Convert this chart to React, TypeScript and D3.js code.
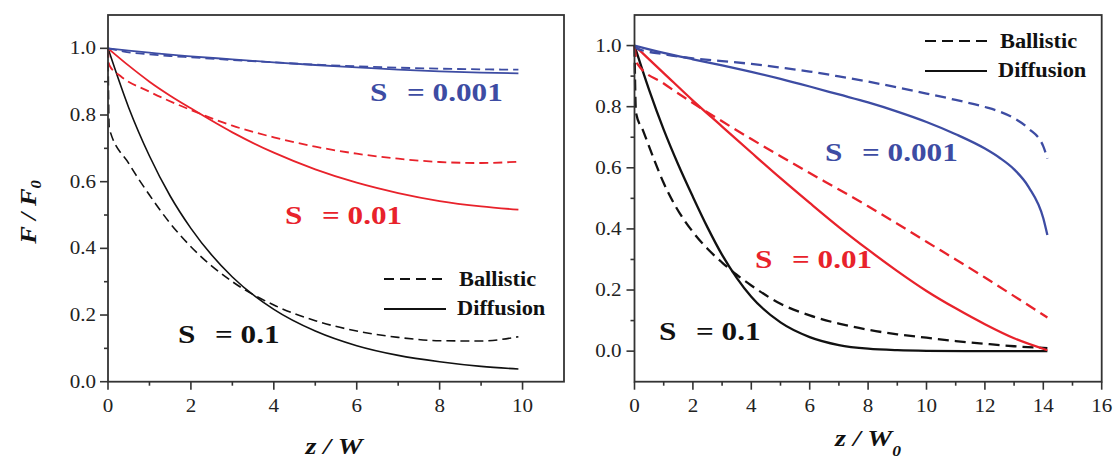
import React from "react";
import * as d3 from "d3";

// ---------- data: left panel (x = z/W) ----------
const lBlueSolidX = [0, 0.5, 1, 1.5, 2, 3, 4, 5, 6, 7, 8, 9, 9.9];
const lBlueSolidY = [1.0, 0.993, 0.987, 0.981, 0.976, 0.967, 0.958, 0.95, 0.943, 0.936, 0.931, 0.927, 0.925];
const lBlueDashX = [0, 0.5, 1, 1.5, 2, 3, 4, 5, 6, 7, 8, 9, 9.9];
const lBlueDashY = [1.0, 0.988, 0.982, 0.977, 0.973, 0.965, 0.958, 0.951, 0.946, 0.942, 0.939, 0.937, 0.936];
const lRedSolidX = [0, 0.5, 1, 1.5, 2, 3, 4, 5, 6, 7, 8, 9, 9.9];
const lRedSolidY = [1.0, 0.948, 0.9, 0.858, 0.82, 0.748, 0.687, 0.637, 0.597, 0.566, 0.542, 0.526, 0.516];
const lRedDashX = [0, 0.03, 0.3, 1, 2, 3, 4, 5, 6, 7, 8, 9, 9.9];
const lRedDashY = [1.0, 0.95, 0.917, 0.87, 0.815, 0.768, 0.733, 0.705, 0.684, 0.669, 0.659, 0.656, 0.66];
const lBlackSolidX = [0, 0.5, 1, 1.5, 2, 3, 4, 5, 6, 7, 8, 9, 9.9];
const lBlackSolidY = [1.0, 0.822, 0.677, 0.557, 0.46, 0.314, 0.217, 0.152, 0.108, 0.079, 0.06, 0.046, 0.038];
const lBlackDashX = [0, 0.03, 0.5, 1, 1.5, 2, 3, 4, 5, 6, 7, 8, 9, 9.9];
const lBlackDashY = [1.0, 0.76, 0.655, 0.56, 0.475, 0.405, 0.3, 0.23, 0.183, 0.152, 0.133, 0.123, 0.122, 0.135];

// ---------- data: right panel (x = z/W0) ----------
const rBlueSolidX = [0, 1, 2, 3, 4, 5, 6, 7, 8, 9, 10, 11, 12, 12.5, 13, 13.5, 14, 14.14];
const rBlueSolidY = [1.0, 0.976, 0.955, 0.935, 0.914, 0.891, 0.866, 0.84, 0.814, 0.784, 0.75, 0.71, 0.663, 0.633, 0.595, 0.537, 0.435, 0.38];
const rBlueDashX = [0, 0.1, 1, 2, 3, 4, 5, 6, 7, 8, 9, 10, 11, 12, 12.5, 13, 13.5, 14, 14.14];
const rBlueDashY = [1.0, 0.99, 0.972, 0.958, 0.949, 0.94, 0.928, 0.915, 0.899, 0.882, 0.863, 0.843, 0.822, 0.799, 0.784, 0.762, 0.728, 0.67, 0.63];
const rRedSolidX = [0, 0.5, 1, 2, 3, 4, 5, 6, 7, 8, 9, 10, 11, 12, 13, 14.14];
const rRedSolidY = [1.0, 0.955, 0.91, 0.82, 0.735, 0.65, 0.566, 0.485, 0.406, 0.332, 0.262, 0.197, 0.14, 0.088, 0.042, 0.003];
const rRedDashX = [0, 0.1, 1, 2, 3, 4, 5, 6, 7, 8, 9, 10, 11, 12, 13, 14.14];
const rRedDashY = [1.0, 0.94, 0.876, 0.812, 0.752, 0.694, 0.638, 0.583, 0.529, 0.474, 0.417, 0.358, 0.3, 0.241, 0.18, 0.11];
const rBlackSolidX = [0, 0.5, 1, 1.5, 2, 2.5, 3, 3.5, 4, 5, 6, 7, 8, 9, 10, 12, 14.14];
const rBlackSolidY = [1.0, 0.855, 0.725, 0.61, 0.505, 0.405, 0.315, 0.24, 0.178, 0.094, 0.046, 0.02, 0.008, 0.003, 0.001, 0, 0];
const rBlackDashX = [0, 0.05, 0.3, 0.65, 1, 1.4, 2, 2.5, 3, 3.5, 4, 5, 6, 7, 8, 9, 10, 11, 12, 13, 14.14];
const rBlackDashY = [1.0, 0.78, 0.72, 0.632, 0.55, 0.475, 0.39, 0.335, 0.29, 0.25, 0.215, 0.155, 0.117, 0.09, 0.07, 0.055, 0.044, 0.033, 0.024, 0.016, 0.01];

// ---------- ticks & labels ----------
const lXMajor = [0, 2, 4, 6, 8, 10];
const lXMinor = [1, 3, 5, 7, 9];
const yMajor = [0, 0.2, 0.4, 0.6, 0.8, 1.0];
const yMinor = [0.1, 0.3, 0.5, 0.7, 0.9];
const rXMajor = [0, 2, 4, 6, 8, 10, 12, 14, 16];
const rXMinor = [1, 3, 5, 7, 9, 11, 13, 15];
const legendLabels = ["Ballistic", "Diffusion"];
const sValues = ["0.001", "0.01", "0.1"];

const BLUE = "#3d4ca3";
const RED = "#e8222b";
const BLACK = "#111111";
const AXIS = "#333333";
const SERIF = "'Liberation Serif', 'Times New Roman', serif";

function T(props: any) {
  const { x, y, size, weight = "normal", style = "normal", fill = "#222", anchor = "start", sx = 1.17, rotate = 0, children } = props;
  return (
    <text
      transform={`translate(${x},${y}) rotate(${rotate}) scale(${sx},1)`}
      fontFamily={SERIF}
      fontSize={size}
      fontWeight={weight}
      fontStyle={style}
      fill={fill}
      textAnchor={anchor}
    >
      {children}
    </text>
  );
}

function series(xs: number[], ys: number[]) {
  return xs.map((x, i) => [x, ys[i]] as [number, number]);
}

function Panel(props: any) {
  const { x, y, xMajor, xMinor, curves, yLabelGap } = props;
  const [x0, x1] = x.range();
  const [y0, y1] = y.range();
  const line = d3.line<[number, number]>().x((d) => x(d[0])).y((d) => y(d[1])).curve(d3.curveMonotoneX);
  return (
    <g>
      {curves.map((c: any, i: number) => (
        <path
          key={i}
          d={line(series(c.xs, c.ys)) || ""}
          fill="none"
          stroke={c.color}
          strokeWidth={c.width}
          strokeDasharray={c.dash || undefined}
        />
      ))}
      <rect x={x0} y={y1} width={x1 - x0} height={y0 - y1} fill="none" stroke={AXIS} strokeWidth={1.8} />
      {xMajor.map((t: number) => (
        <g key={"xm" + t}>
          <line x1={x(t)} x2={x(t)} y1={y0} y2={y0 + 8} stroke={AXIS} strokeWidth={1.6} />
          <T x={x(t)} y={y0 + 30} size={18} anchor="middle">{String(t)}</T>
        </g>
      ))}
      {xMinor.map((t: number) => (
        <line key={"xn" + t} x1={x(t)} x2={x(t)} y1={y0} y2={y0 + 4} stroke={AXIS} strokeWidth={1.6} />
      ))}
      {yMajor.map((t: number) => (
        <g key={"ym" + t}>
          <line x1={x0 - 8} x2={x0} y1={y(t)} y2={y(t)} stroke={AXIS} strokeWidth={1.6} />
          <T x={x0 - yLabelGap} y={y(t) + 6} size={18} anchor="end">{t.toFixed(1)}</T>
        </g>
      ))}
      {yMinor.map((t: number) => (
        <line key={"yn" + t} x1={x0 - 4} x2={x0} y1={y(t)} y2={y(t)} stroke={AXIS} strokeWidth={1.6} />
      ))}
    </g>
  );
}

function SLabel(props: any) {
  const { x, y, color, value } = props;
  return (
    <g>
      <T x={x} y={y} size={26} weight="bold" fill={color} sx={1.2}>S</T>
      <T x={x + 37} y={y} size={26} weight="bold" fill={color} sx={1.2}>{"= " + value}</T>
    </g>
  );
}

function Legend(props: any) {
  const { x, y, dash } = props;
  return (
    <g>
      <line x1={x} x2={x + 62} y1={y} y2={y} stroke={BLACK} strokeWidth={2} strokeDasharray={dash} />
      <line x1={x} x2={x + 62} y1={y + 30} y2={y + 30} stroke={BLACK} strokeWidth={2} />
      <T x={x + 75} y={y + 7} size={20} weight="bold" fill={BLACK} sx={1.12}>{legendLabels[0]}</T>
      <T x={x + 73} y={y + 36} size={20} weight="bold" fill={BLACK} sx={1.12}>{legendLabels[1]}</T>
    </g>
  );
}

export default function App() {
  const xL = d3.scaleLinear().domain([0, 11]).range([108, 564]);
  const yL = d3.scaleLinear().domain([0, 1.1]).range([381.7, 15]);
  const xR = d3.scaleLinear().domain([0, 16]).range([634.5, 1101.7]);
  const yR = d3.scaleLinear().domain([-0.1, 1.1]).range([381.7, 15]);

  const dl = "9,5";
  const dr = "11,6";
  const leftCurves = [
    { xs: lBlackDashX, ys: lBlackDashY, color: BLACK, width: 1.6, dash: dl },
    { xs: lBlackSolidX, ys: lBlackSolidY, color: BLACK, width: 1.6 },
    { xs: lRedDashX, ys: lRedDashY, color: RED, width: 1.8, dash: dl },
    { xs: lRedSolidX, ys: lRedSolidY, color: RED, width: 1.8 },
    { xs: lBlueDashX, ys: lBlueDashY, color: BLUE, width: 1.8, dash: dl },
    { xs: lBlueSolidX, ys: lBlueSolidY, color: BLUE, width: 1.8 },
  ];
  const rightCurves = [
    { xs: rBlackDashX, ys: rBlackDashY, color: BLACK, width: 2.3, dash: dr },
    { xs: rBlackSolidX, ys: rBlackSolidY, color: BLACK, width: 2.3 },
    { xs: rRedDashX, ys: rRedDashY, color: RED, width: 2.3, dash: dr },
    { xs: rRedSolidX, ys: rRedSolidY, color: RED, width: 2.3 },
    { xs: rBlueDashX, ys: rBlueDashY, color: BLUE, width: 2.3, dash: dr },
    { xs: rBlueSolidX, ys: rBlueSolidY, color: BLUE, width: 2.3 },
  ];

  return (
    <svg width={1117} height={464} style={{ position: "absolute", left: 0, top: 0, background: "#fff" }}>
      <rect width={1117} height={464} fill="#fff" />
      <Panel x={xL} y={yL} xMajor={lXMajor} xMinor={lXMinor} curves={leftCurves} yLabelGap={12} />
      <Panel x={xR} y={yR} xMajor={rXMajor} xMinor={rXMinor} curves={rightCurves} yLabelGap={13} />

      <SLabel x={370} y={101} color={BLUE} value={sValues[0]} />
      <SLabel x={285} y={224} color={RED} value={sValues[1]} />
      <SLabel x={178} y={343} color={BLACK} value={sValues[2]} />

      <SLabel x={825} y={161} color={BLUE} value={sValues[0]} />
      <SLabel x={755} y={268} color={RED} value={sValues[1]} />
      <SLabel x={659} y={340} color={BLACK} value={sValues[2]} />

      <Legend x={384} y={279} dash="10,6" />
      <Legend x={925} y={41} dash="11,6" />

      {/* axis titles */}
      <T x={36} y={212} size={24} weight="bold" style="italic" fill={BLACK} anchor="middle" rotate={-90} sx={1.1}>
        F / F<tspan fontSize={15} dy={5}>0</tspan>
      </T>
      <T x={334} y={454} size={24} weight="bold" style="italic" fill={BLACK} anchor="middle" sx={1.17}>
        z / W
      </T>
      <T x={868} y={446} size={24} weight="bold" style="italic" fill={BLACK} anchor="middle" sx={1.17}>
        z / W<tspan fontSize={15} dy={10}>0</tspan>
      </T>
    </svg>
  );
}
